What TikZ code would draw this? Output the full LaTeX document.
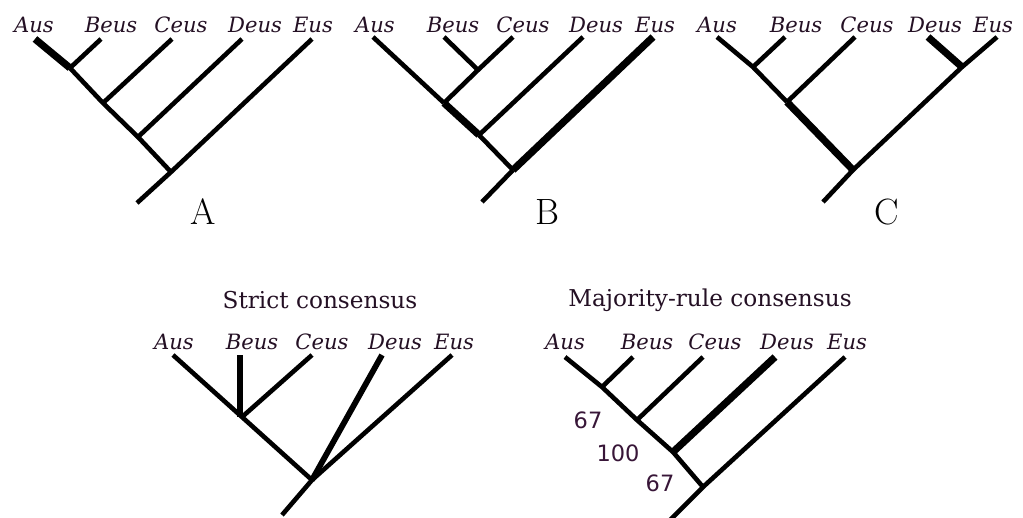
\documentclass[tikz,border=0pt]{standalone}
\usepackage{fontspec}
\usepackage{tikz}
\usetikzlibrary{positioning, calc}
\newfontfamily\slabfont{DejaVu Serif}
\newfontfamily\numfont{DejaVu Sans}
\definecolor{ink}{RGB}{36,16,36}
\definecolor{numink}{RGB}{56,22,56}
\tikzset{
    branch/.style={line width=1.15mm},
    heavy/.style={line width=1.8mm},
    taxon/.style={font=\slabfont\itshape\fontsize{15}{18}\selectfont, text=ink, inner sep=0pt},
    treetitle/.style={font=\slabfont\fontsize{16.5}{20}\selectfont, text=ink, inner sep=0pt},
    support/.style={font=\numfont\fontsize{16}{19}\selectfont, text=numink, inner sep=0pt},
    treename/.style={font=\fontsize{26}{30}\selectfont, inner sep=0pt},
}

\begin{document}
\begin{tikzpicture}[x=0.025cm, y=-0.025cm]
        \useasboundingbox[fill=white] (0,0) rectangle (1023,518);
        % Arbol A
        \foreach \n/\x in {Aus/34, Beus/111, Ceus/181, Deus/255, Eus/313}
            \node[taxon] (a\n) at (\x,25) {\n};
        \coordinate (aA) at (35,39);  \coordinate (aB) at (101,39); \coordinate (aC) at (172,39);
        \coordinate (aD) at (242,39); \coordinate (aE) at (312,39);
        \coordinate (aAB) at (70,68); \coordinate (aABC) at (103,103); \coordinate (aABCD) at (138,137);
        \coordinate (aroot) at (171,172); \coordinate (astem) at (137,203);
        \draw[branch] (aAB) -- (aABC) -- (aABCD) -- (aroot);
        \draw[heavy] (aA) -- (aAB);
        \draw[branch] (aB) -- (aAB); \draw[branch] (aC) -- (aABC); \draw[branch] (aD) -- (aABCD);
        \draw[branch] (aE) -- (aroot) -- (astem);
        \node[treename] (nameA) at (203,212) {A};
        % Arbol B
        \foreach \n/\x in {Aus/375, Beus/453, Ceus/523, Deus/596, Eus/655}
            \node[taxon] (b\n) at (\x,25) {\n};
        \coordinate (bA) at (373,37); \coordinate (bB) at (444,37); \coordinate (bC) at (513,37);
        \coordinate (bD) at (583,37); \coordinate (bE) at (653,37);
        \coordinate (bBC) at (478,70); \coordinate (bABC) at (444,103); \coordinate (bABCD) at (479,135);
        \coordinate (broot) at (513,170); \coordinate (bstem) at (482,202);
        \draw[branch] (bA) -- (bABC); \draw[heavy] (bABC) -- (bABCD); \draw[branch] (bABCD) -- (broot);
        \draw[branch] (bB) -- (bBC); \draw[branch] (bC) -- (bBC) -- (bABC);
        \draw[branch] (bD) -- (bABCD);
        \draw[heavy] (bE) -- (broot); \draw[branch] (broot) -- (bstem);
        \node[treename] (nameB) at (547,212) {B};
        % Arbol C
        \foreach \n/\x in {Aus/717, Beus/796, Ceus/867, Deus/935, Eus/993}
            \node[taxon] (c\n) at (\x,25) {\n};
        \coordinate (cA) at (717,37); \coordinate (cB) at (785,37); \coordinate (cC) at (855,37);
        \coordinate (cD) at (928,37); \coordinate (cE) at (997,37);
        \coordinate (cAB) at (753,67); \coordinate (cABC) at (787,102); \coordinate (cDE) at (962,67);
        \coordinate (croot) at (853,170); \coordinate (cstem) at (823,202);
        \draw[branch] (cA) -- (cAB) -- (cABC); \draw[heavy] (cABC) -- (croot);
        \draw[branch] (cB) -- (cAB); \draw[branch] (cC) -- (cABC);
        \draw[heavy] (cD) -- (cDE); \draw[branch] (cE) -- (cDE) -- (croot) -- (cstem);
        \node[treename] (nameC) at (887,212) {C};
        % Consenso estricto
        \node[treetitle] (strict) at (320,300) {Strict consensus};
        \foreach \n/\x in {Aus/174, Beus/252, Ceus/322, Deus/395, Eus/454}
            \node[taxon] (s\n) at (\x,342) {\n};
        \coordinate (sA) at (173,355); \coordinate (sB) at (240,355); \coordinate (sC) at (312,355);
        \coordinate (sD) at (382,355); \coordinate (sE) at (452,355);
        \coordinate (sABC) at (242,417); \coordinate (sroot) at (312,480); \coordinate (sstem) at (282,515);
        \draw[branch] (sA) -- (sABC) -- (sroot);
        \draw[line width=1.5mm] (sB) -- (sB |- sABC);
        \draw[branch] (sC) -- (sABC);
        \draw[line width=1.45mm] (sD) -- (sroot);
        \draw[branch] (sE) -- (sroot) -- (sstem);
        % Consenso de mayoria
        \node[treetitle] (majority) at (710,300) {Majority-rule consensus};
        \foreach \n/\x in {Aus/565, Beus/647, Ceus/715, Deus/787, Eus/847}
            \node[taxon] (m\n) at (\x,342) {\n};
        \coordinate (mA) at (565,357); \coordinate (mB) at (633,357); \coordinate (mC) at (703,357);
        \coordinate (mD) at (775,357); \coordinate (mE) at (845,357);
        \coordinate (mAB) at (602,387); \coordinate (mABC) at (637,420); \coordinate (mABCD) at (673,452);
        \coordinate (mroot) at (703,487); \coordinate (mstem) at (670,520);
        \draw[branch] (mA) -- (mAB) -- (mABC) -- (mABCD) -- (mroot);
        \draw[branch] (mB) -- (mAB); \draw[branch] (mC) -- (mABC);
        \draw[heavy] (mD) -- (mABCD);
        \draw[branch] (mE) -- (mroot) -- (mstem);
        \node[support] (sup1) at (588,420) {67};
        \node[support] (sup2) at (618,453) {100};
        \node[support] (sup3) at (660,483) {67};
    \end{tikzpicture}
\end{document}
